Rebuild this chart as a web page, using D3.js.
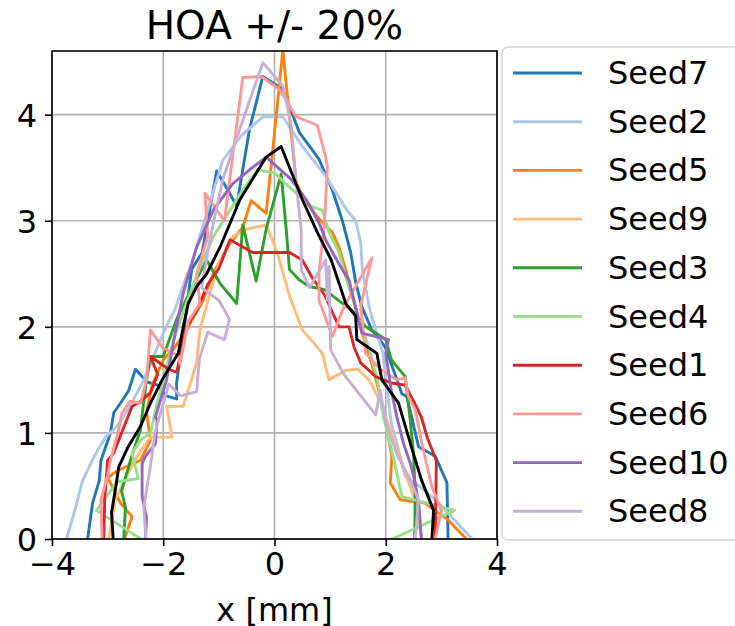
<!DOCTYPE html>
<html>
<head>
<meta charset="utf-8">
<script src="https://cdn.jsdelivr.net/npm/d3@7"></script>
<style>
  body { margin: 0; background: #fff; }
  text { font-family: "DejaVu Sans", sans-serif; }
</style>
</head>
<body>
<svg id="chart"></svg>
<script>
const width = 735;
const height = 626;
const margin = {top: 51, right: 238, bottom: 87, left: 52};

// data: [x in mm, height]
const seed7 = [[-3.36,0],[-3.27,0.34],[-3.15,0.55],[-3.12,0.74],[-2.95,1.0],[-2.89,1.19],[-2.77,1.28],[-2.62,1.4],[-2.5,1.6],[-2.29,1.48],[-2.1,1.45],[-1.95,1.35],[-1.76,1.32],[-1.76,1.47],[-1.62,2.0],[-1.55,2.3],[-1.49,2.54],[-1.3,2.7],[-1.04,3.47],[-0.85,3.3],[-0.68,3.14],[-0.45,3.86],[-0.21,4.36],[0.15,4.24],[0.45,3.83],[0.8,3.58],[1.04,3.29],[1.22,3.0],[1.37,2.7],[1.46,2.42],[1.57,2.19],[1.75,1.97],[1.99,1.81],[2.14,1.59],[2.29,1.37],[2.38,1.34],[2.59,0.87],[2.89,0.78],[3.1,0.53],[3.12,0]];
const seed2 = [[-3.74,0],[-3.6,0.25],[-3.45,0.55],[-3.25,0.77],[-3.04,0.96],[-2.83,1.06],[-2.6,1.25],[-2.35,1.5],[-2.15,1.75],[-1.95,2.0],[-1.79,2.16],[-1.6,2.45],[-1.49,2.6],[-1.2,3.1],[-0.93,3.57],[-0.6,3.8],[-0.21,3.98],[0.15,3.98],[0.5,3.7],[0.92,3.42],[1.3,3.1],[1.46,3.0],[1.55,2.79],[1.58,2.54],[1.7,2.19],[1.82,1.97],[1.95,1.75],[2.0,1.5],[2.05,1.3],[2.1,1.09],[2.25,0.8],[2.35,0.59],[2.6,0.5],[2.89,0.37],[3.2,0.2],[3.55,0]];
const seed5 = [[-2.7,0],[-2.56,0.21],[-2.77,0.34],[-3.0,0.58],[-2.8,0.65],[-2.41,0.74],[-2.23,0.93],[-2.3,1.2],[-2.2,1.45],[-2.0,1.69],[-1.8,1.8],[-1.6,1.95],[-1.45,2.1],[-1.31,2.22],[-1.1,2.5],[-0.85,2.75],[-0.57,2.94],[-0.42,3.19],[-0.15,3.07],[-0.03,3.67],[0.15,4.61],[0.27,3.98],[0.39,3.36],[0.54,3.2],[0.75,3.05],[0.92,2.95],[1.04,2.89],[1.16,2.75],[1.3,2.5],[1.45,2.2],[1.6,1.9],[1.75,1.65],[1.85,1.45],[1.95,1.25],[2.02,1.03],[2.11,0.78],[2.08,0.53],[2.26,0.37],[2.7,0.34],[3.12,0.18],[3.45,0]];
const seed9 = [[-2.98,0],[-2.86,0.37],[-2.7,0.55],[-2.47,0.78],[-2.23,0.96],[-1.84,0.96],[-1.94,1.25],[-1.64,1.25],[-1.4,1.66],[-1.34,1.97],[-1.16,2.32],[-1.0,2.6],[-0.75,2.85],[-0.5,2.92],[-0.15,2.96],[0.05,2.7],[0.27,2.29],[0.5,1.97],[0.62,1.9],[0.86,1.75],[0.98,1.5],[1.28,1.59],[1.5,1.6],[1.7,1.5],[1.9,1.3],[2.1,1.0],[2.3,0.7],[2.5,0.4],[2.65,0]];
const seed3 = [[-2.71,0],[-2.68,0.3],[-2.75,0.45],[-2.59,0.74],[-2.41,1.03],[-2.35,1.3],[-2.3,1.5],[-2.23,1.72],[-2.0,1.72],[-1.76,2.07],[-1.5,2.35],[-1.22,2.63],[-0.98,2.41],[-0.68,2.22],[-0.57,2.96],[-0.33,2.43],[-0.15,2.92],[0.12,3.44],[0.21,2.92],[0.27,2.54],[0.45,2.44],[0.63,2.38],[0.9,2.35],[1.15,2.25],[1.4,2.15],[1.64,2.0],[2.0,1.88],[2.1,1.69],[2.35,1.53],[2.44,1.12],[2.5,0.8],[2.53,0.4],[2.52,0]];
const seed4 = [[-2.4,0],[-3.2,0.27],[-2.83,0.54],[-2.45,0.57],[-2.56,0.81],[-2.41,0.93],[-2.23,1.0],[-2.1,1.3],[-1.95,1.6],[-1.8,1.9],[-1.6,2.2],[-1.35,2.55],[-1.1,2.85],[-0.8,3.1],[-0.57,3.29],[-0.3,3.48],[0.0,3.45],[0.3,3.3],[0.68,3.13],[0.86,3.1],[0.98,2.89],[1.16,2.7],[1.28,2.47],[1.5,2.1],[1.7,1.8],[1.85,1.5],[1.96,1.15],[2.1,0.85],[2.2,0.62],[2.29,0.4],[3.24,0.27],[2.11,0]];
const seed1 = [[-3.07,0],[-3.05,0.4],[-3.0,0.74],[-2.89,0.81],[-2.75,1.0],[-2.56,1.25],[-2.4,1.3],[-2.23,1.38],[-2.1,1.55],[-2.23,1.72],[-1.9,1.6],[-1.76,1.57],[-1.58,2.0],[-1.4,2.15],[-1.2,2.4],[-1.0,2.55],[-0.8,2.82],[-0.39,2.7],[-0.15,2.7],[0.27,2.7],[0.5,2.63],[0.68,2.46],[0.9,2.3],[1.16,2.0],[1.34,2.0],[1.43,1.81],[1.55,1.66],[1.82,1.53],[2.11,1.47],[2.35,1.45],[2.5,1.3],[2.64,1.15],[2.75,0.95],[2.91,0.74],[2.89,0]];
const seed6 = [[-3.1,0],[-3.12,0.37],[-3.0,0.6],[-2.95,0.74],[-2.8,1.03],[-2.74,1.19],[-2.6,1.3],[-2.41,1.28],[-2.3,1.5],[-2.23,1.97],[-2.0,1.8],[-1.73,1.73],[-1.7,1.65],[-1.55,2.05],[-1.34,2.22],[-1.4,2.5],[-1.2,2.85],[-1.25,3.26],[-0.9,3.0],[-0.57,4.35],[-0.24,4.36],[0.09,4.24],[0.39,3.98],[0.77,3.9],[0.92,3.6],[0.95,3.51],[0.9,2.99],[0.8,2.51],[0.8,2.25],[1.04,1.91],[1.25,2.19],[1.75,2.65],[1.55,2.2],[1.64,1.75],[1.9,1.6],[2.2,1.5],[2.35,1.52],[2.4,1.35],[2.53,1.22],[2.65,0.9],[2.83,0.49],[3.0,0.27],[2.89,0]];
const seed10 = [[-2.32,0],[-2.3,0.2],[-2.38,0.4],[-2.38,0.71],[-2.32,0.78],[-2.14,0.9],[-2.11,1.12],[-2.14,1.15],[-1.94,1.5],[-1.8,1.9],[-1.64,2.32],[-1.4,2.75],[-1.1,3.1],[-0.75,3.35],[-0.4,3.5],[-0.15,3.6],[0.3,3.39],[0.57,3.2],[0.8,2.98],[0.92,2.82],[1.15,2.6],[1.34,2.44],[1.45,2.2],[1.57,1.94],[2.05,1.88],[2.0,1.75],[2.1,1.4],[2.2,1.15],[2.32,0.9],[2.45,0.7],[2.53,0.53],[2.6,0.3],[2.64,0]];
const seed8 = [[-2.31,0],[-2.35,0.3],[-2.23,0.69],[-2.15,1.0],[-1.9,1.46],[-1.69,1.35],[-1.4,1.39],[-1.35,1.7],[-1.2,1.95],[-0.9,1.88],[-0.81,2.07],[-1.0,2.25],[-1.31,2.37],[-1.15,2.85],[-0.93,3.39],[-0.6,3.9],[-0.21,4.49],[0.15,4.27],[0.3,3.9],[0.4,3.3],[0.48,2.92],[0.48,2.54],[0.63,2.37],[0.92,2.63],[0.95,2.25],[0.98,2.57],[1.01,1.78],[1.25,1.55],[1.52,1.37],[1.82,1.17],[1.9,1.4],[2.0,1.1],[2.2,0.8],[2.4,0.6],[2.59,0.37],[2.53,0]];
const meanLine = [[-2.9,0],[-2.93,0.25],[-2.85,0.5],[-2.8,0.68],[-2.63,0.87],[-2.41,1.06],[-2.23,1.28],[-2.02,1.5],[-1.73,1.75],[-1.64,2.0],[-1.55,2.22],[-1.4,2.38],[-1.22,2.5],[-0.98,2.75],[-0.62,3.2],[-0.15,3.6],[0.12,3.7],[0.5,3.2],[0.77,2.89],[1.02,2.63],[1.2,2.35],[1.28,2.22],[1.46,2.1],[1.48,1.88],[1.84,1.75],[1.93,1.5],[2.23,1.28],[2.46,0.87],[2.64,0.56],[2.86,0.27],[2.83,0]];

const seedNames = ["Seed7","Seed2","Seed5","Seed9","Seed3","Seed4","Seed1","Seed6","Seed10","Seed8"];
const seedData = [seed7, seed2, seed5, seed9, seed3, seed4, seed1, seed6, seed10, seed8];
const seedColors = ["#1f77b4","#aec7e8","#ff7f0e","#ffbb78","#2ca02c","#98df8a","#d62728","#ff9896","#9467bd","#c5b0d5"];
const xTicks = [-4, -2, 0, 2, 4];
const yTicks = [0, 1, 2, 3, 4];

const svg = d3.select("#chart")
  .attr("width", width)
  .attr("height", height);

const innerWidth = width - margin.left - margin.right;
const innerHeight = height - margin.top - margin.bottom;

const x = d3.scaleLinear().domain([-4, 4]).range([0, innerWidth]);
const y = d3.scaleLinear().domain([0, 4.6]).range([innerHeight, 0]);

const g = svg.append("g")
  .attr("transform", `translate(${margin.left},${margin.top})`);

svg.append("defs").append("clipPath")
  .attr("id", "plot-clip")
  .append("rect")
  .attr("width", innerWidth)
  .attr("height", innerHeight);

// grid
g.append("g")
  .selectAll("line.vgrid")
  .data(xTicks)
  .enter()
  .append("line")
  .attr("x1", d => x(d)).attr("x2", d => x(d))
  .attr("y1", 0).attr("y2", innerHeight)
  .attr("stroke", "#b0b0b0")
  .attr("stroke-width", 1.6);

g.append("g")
  .selectAll("line.hgrid")
  .data(yTicks)
  .enter()
  .append("line")
  .attr("x1", 0).attr("x2", innerWidth)
  .attr("y1", d => y(d)).attr("y2", d => y(d))
  .attr("stroke", "#b0b0b0")
  .attr("stroke-width", 1.6);

// lines
const line = d3.line()
  .x(d => x(d[0]))
  .y(d => y(d[1]));

const lines = g.append("g").attr("clip-path", "url(#plot-clip)");

lines.selectAll("path.seed")
  .data(seedData)
  .enter()
  .append("path")
  .attr("class", "seed")
  .attr("d", line)
  .attr("fill", "none")
  .attr("stroke", (d, i) => seedColors[i])
  .attr("stroke-width", 2.9)
  .attr("stroke-linejoin", "round");

lines.append("path")
  .datum(meanLine)
  .attr("d", line)
  .attr("fill", "none")
  .attr("stroke", "black")
  .attr("stroke-width", 2.9)
  .attr("stroke-linejoin", "round");

// frame
g.append("rect")
  .attr("width", innerWidth)
  .attr("height", innerHeight)
  .attr("fill", "none")
  .attr("stroke", "black")
  .attr("stroke-width", 1.6);

// axes
const xAxis = d3.axisBottom(x)
  .tickValues(xTicks)
  .tickFormat(d => d < 0 ? "\u2212" + Math.abs(d) : d)
  .tickSize(7)
  .tickPadding(6);

const yAxis = d3.axisLeft(y)
  .tickValues(yTicks)
  .tickFormat(d3.format("d"))
  .tickSize(7)
  .tickPadding(8);

const xg = g.append("g")
  .attr("transform", `translate(0, ${innerHeight})`)
  .call(xAxis);

const yg = g.append("g").call(yAxis);

[xg, yg].forEach(ax => {
  ax.select(".domain").remove();
  ax.selectAll(".tick line").attr("stroke", "black").attr("stroke-width", 1.6);
  ax.selectAll(".tick text")
    .attr("fill", "black")
    .attr("font-size", "32px")
    .attr("font-family", "DejaVu Sans");
});
yg.selectAll(".tick text").attr("dy", "0.36em");

svg.append("text")
  .attr("x", margin.left + innerWidth / 2)
  .attr("y", 39)
  .attr("text-anchor", "middle")
  .attr("font-size", "39px")
  .text("HOA +/- 20%");

svg.append("text")
  .attr("x", margin.left + innerWidth / 2)
  .attr("y", 621)
  .attr("text-anchor", "middle")
  .attr("font-size", "32px")
  .text("x [mm]");

// legend
const legend = svg.append("g")
  .attr("transform", "translate(502, 47)");

legend.append("rect")
  .attr("x", 0)
  .attr("y", 0)
  .attr("width", 260)
  .attr("height", 493)
  .attr("rx", 6)
  .attr("fill", "white")
  .attr("fill-opacity", 0.8)
  .attr("stroke", "#d6d6d6")
  .attr("stroke-width", 1.5);

const items = legend.selectAll("g.item")
  .data(seedNames)
  .enter()
  .append("g")
  .attr("class", "item")
  .attr("transform", (d, i) => `translate(0, ${26 + i * 48.7})`);

items.append("line")
  .attr("x1", 11).attr("x2", 80)
  .attr("y1", 0).attr("y2", 0)
  .attr("stroke", (d, i) => seedColors[i])
  .attr("stroke-width", 2.9);

items.append("text")
  .attr("x", 106)
  .attr("y", 11)
  .attr("font-size", "32px")
  .text(d => d);
</script>
</body>
</html>
